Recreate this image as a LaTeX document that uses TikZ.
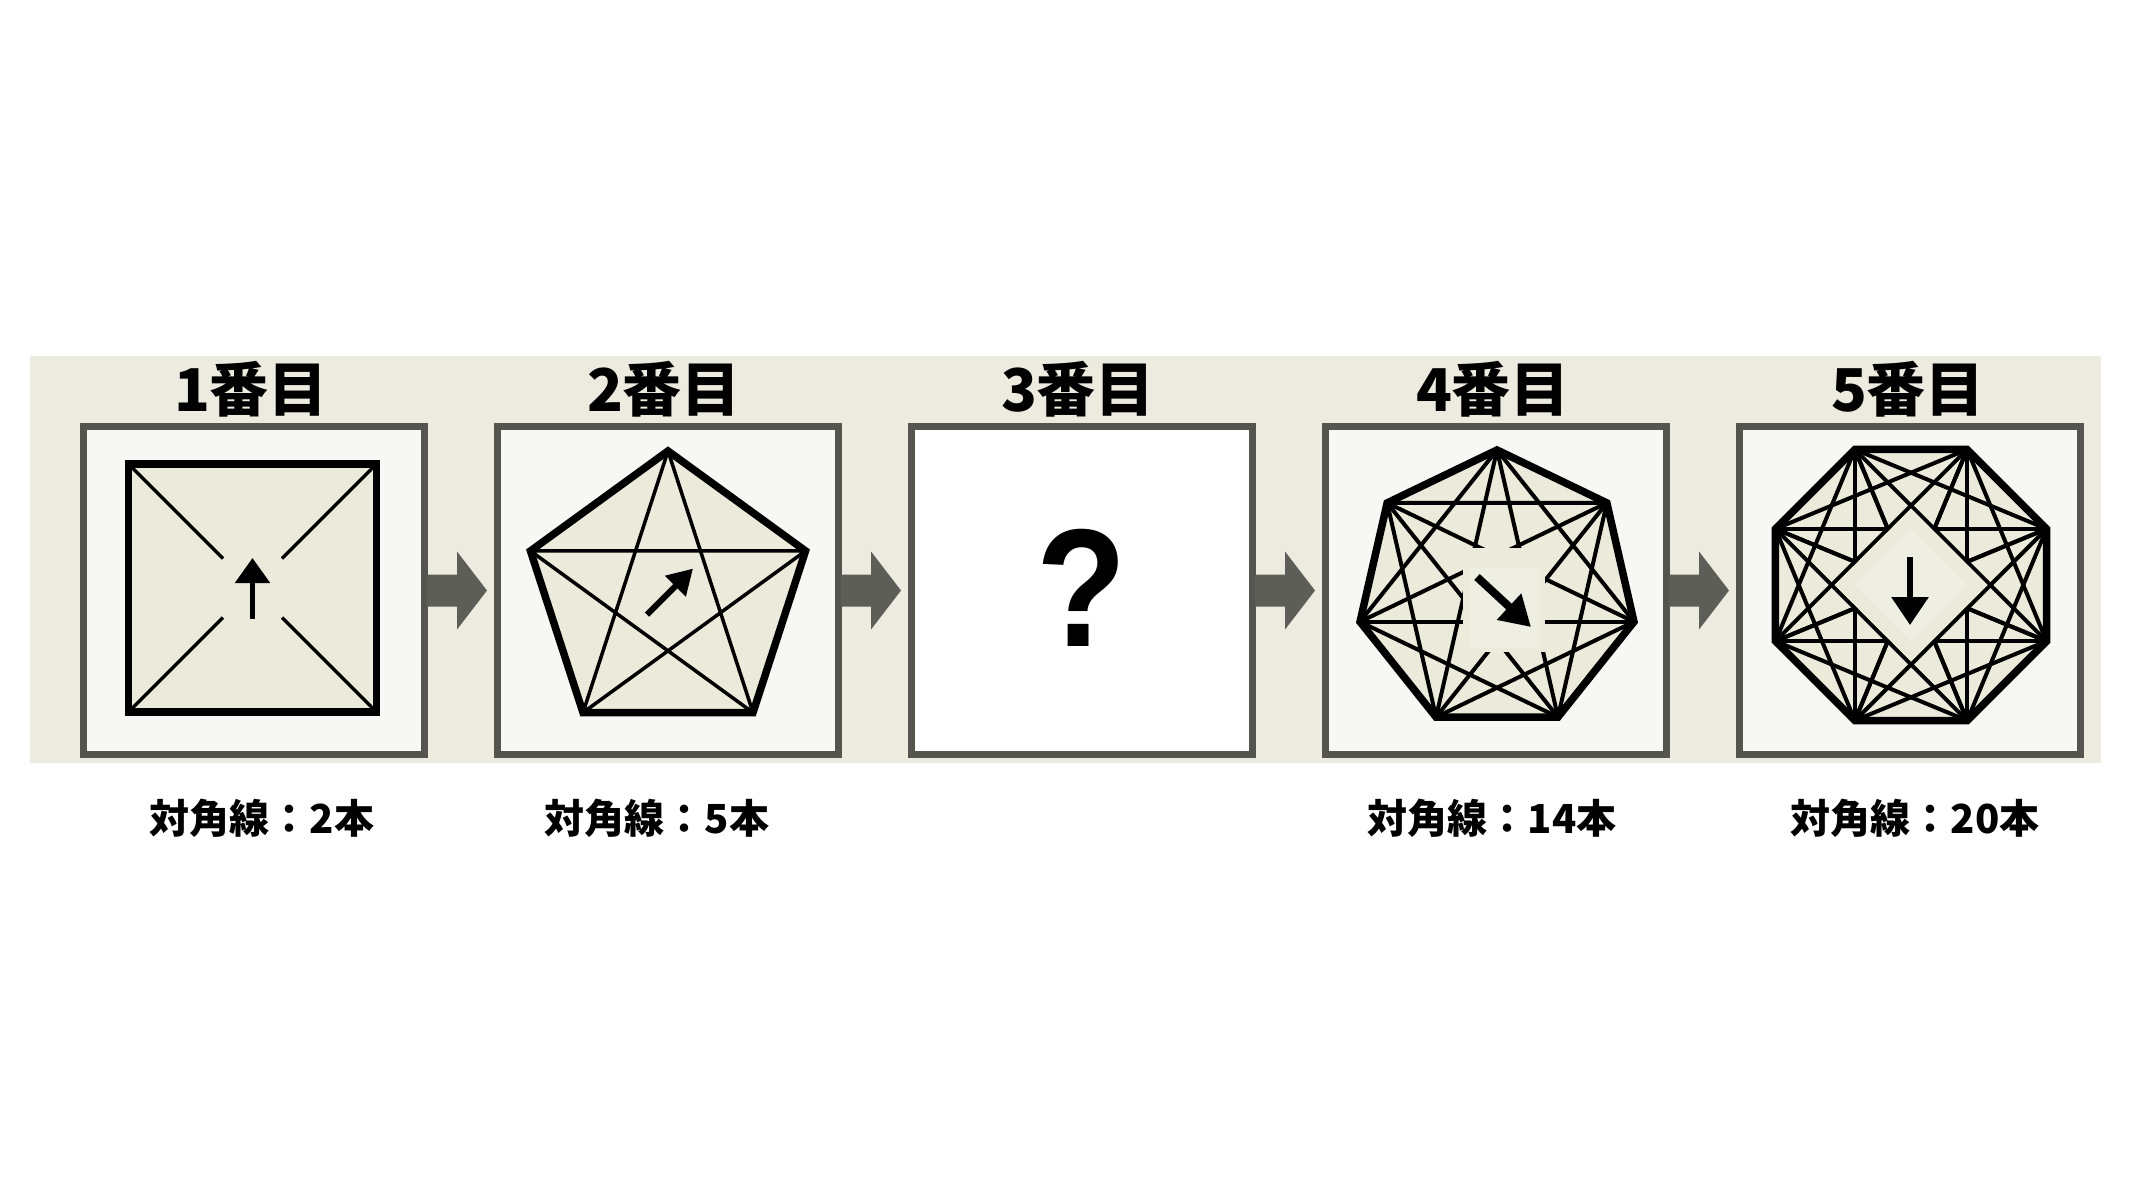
\documentclass[tikz,border=0pt]{standalone}
\usepackage{fontspec}
\newfontfamily\cjk{Noto Sans CJK JP}
\newfontfamily\qfont{Liberation Sans}
\usetikzlibrary{arrows.meta,calc}
\definecolor{bandc}{HTML}{EDEBDF}
\definecolor{shapefill}{HTML}{ECEADB}
\definecolor{panelfill}{HTML}{F7F7F4}
\definecolor{framec}{HTML}{55554F}
\definecolor{arrowc}{HTML}{5E5E58}
\definecolor{gapfill}{HTML}{EFEEE3}
\tikzset{
  panel/.style={draw=framec, fill=panelfill, line width=7pt, minimum width=341pt, minimum height=328pt, inner sep=0pt},
  titletext/.style={font=\cjk\bfseries\fontsize{59}{59}\selectfont, inner sep=0pt},
  countlabel/.style={font=\cjk\bfseries\fontsize{40}{40}\selectfont, inner sep=0pt},
  outline/.style={draw=black, fill=shapefill, line width=7.5pt},
  diag/.style={draw=black, line width=3.5pt},
  diagb/.style={draw=black, line width=4pt},
  blockarrow/.style={fill=arrowc},
  dirarrow/.style={draw=black, line width=6pt},
}
\begin{document}
\begin{tikzpicture}[x=1pt,y=-1pt]
\useasboundingbox[fill=white] (0,0) rectangle (2133,1200);
\fill[bandc] (30,356) rectangle (2101,763);

% panels
\node[panel] (p1) at (254,590.5) {};
\node[panel] (p2) at (668,590.5) {};
\node[panel, fill=white] (p3) at (1082,590.5) {};
\node[panel] (p4) at (1496,590.5) {};
\node[panel] (p5) at (1910,590.5) {};

% titles
\node[titletext] (t1) at (251,389) {1番目};
\node[titletext] (t2) at (664,389) {2番目};
\node[titletext] (t3) at (1078,389) {3番目};
\node[titletext] (t4) at (1493,389) {4番目};
\node[titletext] (t5) at (1908,389) {5番目};

% count labels
\node[countlabel] (l1) at (262,818) {対角線：2本};
\node[countlabel] (l2) at (657,818) {対角線：5本};
\node[countlabel] (l4) at (1492,818) {対角線：14本};
\node[countlabel] (l5) at (1915,818) {対角線：20本};

% block arrows between panels
\foreach \a/\b in {p1/p2,p2/p3,p3/p4,p4/p5}{
  \fill[blockarrow] ($(\a.east)+(-1,-16)$) -- ($(\a.east)+(29,-16)$) -- ($(\a.east)+(29,-39)$)
    -- ($(\b.west)+(-7,0)$) -- ($(\a.east)+(29,39)$) -- ($(\a.east)+(29,16)$) -- ($(\a.east)+(-1,16)$) -- cycle;
}

% ---- panel 1: square
\coordinate (c1) at (252.5,588);
\draw[outline] ($(c1)+(-124,-124)$) rectangle ($(c1)+(124,124)$);
\draw[diag] ($(c1)+(-124,-124)$) -- ($(c1)+(-29.5,-29.5)$);
\draw[diag] ($(c1)+(124,-124)$) -- ($(c1)+(29.5,-29.5)$);
\draw[diag] ($(c1)+(-124,124)$) -- ($(c1)+(-29.5,29.5)$);
\draw[diag] ($(c1)+(124,124)$) -- ($(c1)+(29.5,29.5)$);
\draw[dirarrow, line width=5.5pt, -{Triangle[width=34pt,length=25pt]}] ($(c1)+(0,31)$) -- ($(c1)+(0,-30)$);

% ---- panel 2: pentagon
\coordinate (c2) at (668,595.6);
\foreach \i in {0,...,4}{
  \coordinate (q\i) at ($(c2)+({144.6*cos(90+72*\i)},{-144.6*sin(90+72*\i)})$);
}
\draw[outline] (q0) -- (q1) -- (q2) -- (q3) -- (q4) -- cycle;
\draw[diag] (q0) -- (q2) (q0) -- (q3) (q1) -- (q3) (q1) -- (q4) (q2) -- (q4);
\draw[dirarrow, -{Triangle[width=28pt,length=25pt]}] ($(c2)+(-21,19)$) -- ($(c2)+(25,-27)$);

% ---- panel 3: question mark
\node[font=\qfont\bfseries\fontsize{168}{168}\selectfont, xscale=0.88, inner sep=0pt] (qm) at (1082,588) {?};

% ---- panel 4: heptagon
\coordinate (c4) at (1497,590.5);
\foreach \i in {0,...,6}{
  \coordinate (h\i) at ($(c4)+({140.5*cos(90+360/7*\i)},{-140.5*sin(90+360/7*\i)})$);
}
\fill[shapefill] (h0) -- (h1) -- (h2) -- (h3) -- (h4) -- (h5) -- (h6) -- cycle;
\foreach \i in {0,...,6}{
  \pgfmathtruncatemacro\ja{mod(\i+2,7)}
  \pgfmathtruncatemacro\jb{mod(\i+3,7)}
  \draw[diagb] (h\i) -- (h\ja);
  \draw[diagb] (h\i) -- (h\jb);
}
\fill[shapefill] (1463,548) rectangle (1545,652);
\fill[gapfill] (1470,568) rectangle (1540,648);
\draw[outline, fill=none] (h0) -- (h1) -- (h2) -- (h3) -- (h4) -- (h5) -- (h6) -- cycle;
\draw[dirarrow, line width=8pt, -{Triangle[width=34pt,length=30pt]}] (1477,577) -- (1531,627);

% ---- panel 5: octagon
\coordinate (c5) at (1911,585);
\foreach \i in {0,...,7}{
  \coordinate (o\i) at ($(c5)+({146.7*cos(22.5+45*\i)},{-146.7*sin(22.5+45*\i)})$);
}
\fill[shapefill] (o0) -- (o1) -- (o2) -- (o3) -- (o4) -- (o5) -- (o6) -- (o7) -- cycle;
\foreach \i in {0,...,7}{
  \foreach \d in {2,3,4}{
    \pgfmathtruncatemacro\jj{mod(\i+\d,8)}
    \draw[diagb] (o\i) -- (o\jj);
  }
}
\fill[shapefill] ($(c5)+(0,-76.5)$) -- ($(c5)+(76.5,0)$) -- ($(c5)+(0,76.5)$) -- ($(c5)+(-76.5,0)$) -- cycle;
\fill[gapfill] ($(c5)+(0,-56)$) -- ($(c5)+(56,0)$) -- ($(c5)+(0,56)$) -- ($(c5)+(-56,0)$) -- cycle;
\draw[outline, fill=none] (o0) -- (o1) -- (o2) -- (o3) -- (o4) -- (o5) -- (o6) -- (o7) -- cycle;
\draw[dirarrow, -{Triangle[width=36pt,length=28pt]}] (1910,557) -- (1910,625);
\end{tikzpicture}
\end{document}
